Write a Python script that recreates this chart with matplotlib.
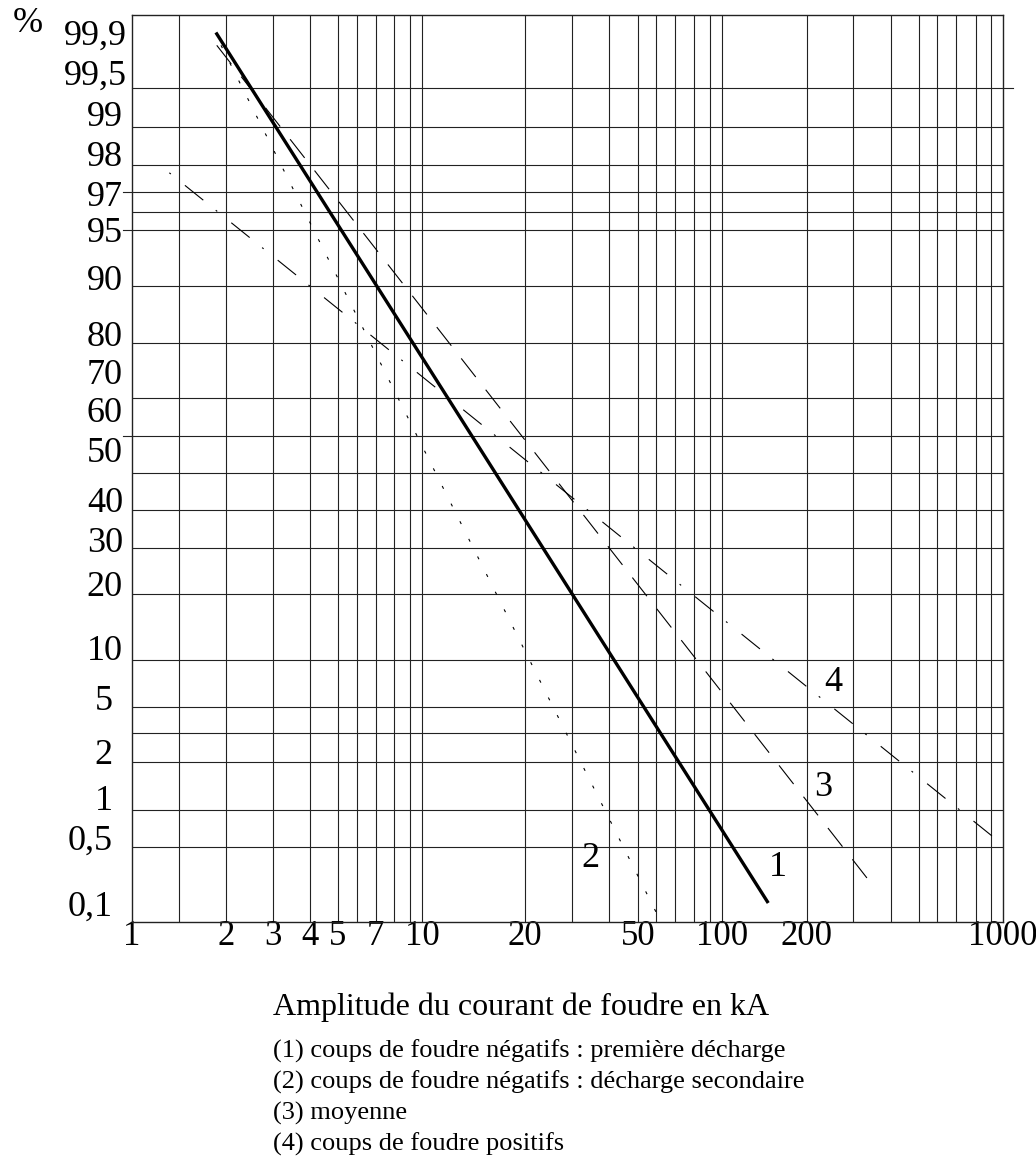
import numpy as np
import matplotlib
matplotlib.use("Agg")
import matplotlib.pyplot as plt

plt.rcParams["font.family"] = ["Liberation Serif", "DejaVu Serif"]
plt.rcParams["lines.scale_dashes"] = False

# ---- values ----
x_labels = [1, 2, 3, 4, 5, 7, 10, 20, 50, 100, 200, 1000]
x_grid = [1.5, 2, 3, 4, 5, 6, 7, 8, 9, 10, 20, 30, 40, 50, 60, 70, 80, 90, 100,
          200, 300, 400, 500, 600, 700, 800, 900]
y_labels = [99.9, 99.5, 99, 98, 97, 95, 90, 80, 70, 60, 50, 40, 30, 20, 10, 5, 2, 1, 0.5, 0.1]
y_label_text = ["99,9", "99,5", "99", "98", "97", "95", "90", "80", "70", "60", "50",
                "40", "30", "20", "10", "5", "2", "1", "0,5", "0,1"]
# horizontal rulings, read against the printed % labels
y_grid = [99.3, 98.65, 97.72, 97.05, 96.0, 95.0, 88.4, 77.5, 62.8, 53.25, 45.3, 37.2,
          28.0, 18.3, 8.78, 4.44, 3.05, 1.78, 0.85, 0.44]

# curves: amplitude (kA) and probability (%) at both ends
c1_ka, c1_pct = [1.88, 146], [99.9, 0.1]      # (1) negative, first stroke
c2_ka, c2_pct = [1.94, 59.8], [99.77, 0.053]  # (2) negative, subsequent
c3_ka, c3_pct = [1.89, 347], [99.77, 0.213]   # (3) mean
c4_ka, c4_pct = [1.38, 920], [97.53, 0.5]     # (4) positive

legend_lines = ["(1) coups de foudre négatifs : première décharge",
                "(2) coups de foudre négatifs : décharge secondaire",
                "(3) moyenne",
                "(4) coups de foudre positifs"]

# ---- the paper is ruled unevenly: ruler value -> place on the sheet ----
x_ruler_val = [1, 1.5, 2, 3, 4, 5, 6, 7, 8, 9, 10, 20, 30, 40, 50, 60, 70, 80, 90, 100,
               200, 300, 400, 500, 600, 700, 800, 900, 1000]
x_ruler_pos = [0, 47, 94, 140.5, 178, 206, 224.7, 243.5, 262.3, 278.3, 290.3, 393.3, 440,
               477.3, 506, 524.3, 543, 562, 578, 590, 674.7, 720.7, 758.7, 787, 805.3,
               824, 843.5, 858.7, 871]
y_ruler_val = [0, 0.1, 0.5, 1, 2, 5, 10, 20, 30, 40, 50, 60, 70, 80, 90, 95, 97, 98, 99,
               99.5, 99.9, 100]
y_ruler_pos = [0, 19, 85, 124, 170, 225, 274, 339, 383, 423, 473, 513, 551, 589, 645,
               692, 728, 768, 809, 850, 889.5, 907]

lxv = np.log10(x_ruler_val)


def fwd_x(v):
    v = np.clip(np.asarray(v, dtype=float), 1e-6, None)
    return np.interp(np.log10(v), lxv, x_ruler_pos)


def inv_x(p):
    return 10 ** np.interp(np.asarray(p, dtype=float), x_ruler_pos, lxv)


def fwd_y(v):
    return np.interp(np.asarray(v, dtype=float), y_ruler_val, y_ruler_pos)


def inv_y(p):
    return np.interp(np.asarray(p, dtype=float), y_ruler_pos, y_ruler_val)


W, H = 1036, 1160
fig = plt.figure(figsize=(W / 100, H / 100), dpi=100)
ax = fig.add_axes([132 / W, 1 - 922 / H, 871 / W, 907 / H])
ax.set_xscale("function", functions=(fwd_x, inv_x))
ax.set_yscale("function", functions=(fwd_y, inv_y))
ax.set_xlim(1, 1000)
ax.set_ylim(0, 100)

grid_kw = dict(color="#222222", lw=0.8, zorder=1)
for v in x_grid:
    ax.axvline(v, **grid_kw)
for v in y_grid:
    if v in (97.05, 95.0, 53.25):
        ax.axhline(v, xmin=-0.0103, xmax=1, clip_on=False, **grid_kw)
    elif v == 99.3:
        ax.axhline(v, xmin=0, xmax=1.0115, clip_on=False, **grid_kw)
    else:
        ax.axhline(v, **grid_kw)

for s in ax.spines.values():
    s.set_linewidth(1.0)
    s.set_color("#222222")

ax.plot(c1_ka, c1_pct, color="black", lw=2.4, solid_capstyle="butt", zorder=3)
ax.plot(c2_ka, c2_pct, color="black", lw=0.8, linestyle=(0, (2.2, 12.0)), zorder=3)
ax.plot(c3_ka, c3_pct, color="black", lw=0.8, linestyle=(0, (17, 11.6)), zorder=3)
ax.plot(c4_ka, c4_pct, color="black", lw=0.8, linestyle=(0, (1.4, 13, 17, 11.5)), zorder=3)

# curve numbers
for txt, xa, ya in [("1", 0.742, 0.0647), ("2", 0.526, 0.074),
                    ("3", 0.794, 0.153), ("4", 0.805, 0.269)]:
    ax.text(xa, ya, txt, transform=ax.transAxes, ha="center", va="center_baseline",
            fontsize=26)

# x tick labels
ax.set_xticks(x_labels)
ax.set_xticklabels([str(v) for v in x_labels])
ax.xaxis.set_minor_locator(matplotlib.ticker.NullLocator())
ax.tick_params(axis="x", length=0, pad=-1.5, labelsize=25)
ax.set_yticks([])
ax.yaxis.set_minor_locator(matplotlib.ticker.NullLocator())

# y labels, ragged as printed
for v, t in zip(y_labels, y_label_text):
    if v >= 99.5:
        dx = 5
    elif v <= 5:
        dx = 19.5
    else:
        dx = 9
    ax.annotate(t, xy=(0, v), xycoords=("axes fraction", "data"), xytext=(-dx, 0),
                textcoords="offset pixels", ha="right", va="center_baseline", fontsize=26)

fig.text(28 / W, 1 - 23 / H, "%", ha="center", va="center", fontsize=26)

fig.text(273 / W, 1 - 1015 / H, "Amplitude du courant de foudre en kA",
         ha="left", va="baseline", fontsize=23)
for i, line in enumerate(legend_lines):
    fig.text(273 / W, 1 - (1058 + 31 * i) / H, line, ha="left", va="baseline", fontsize=19)

fig.savefig("out.png", dpi=100)
